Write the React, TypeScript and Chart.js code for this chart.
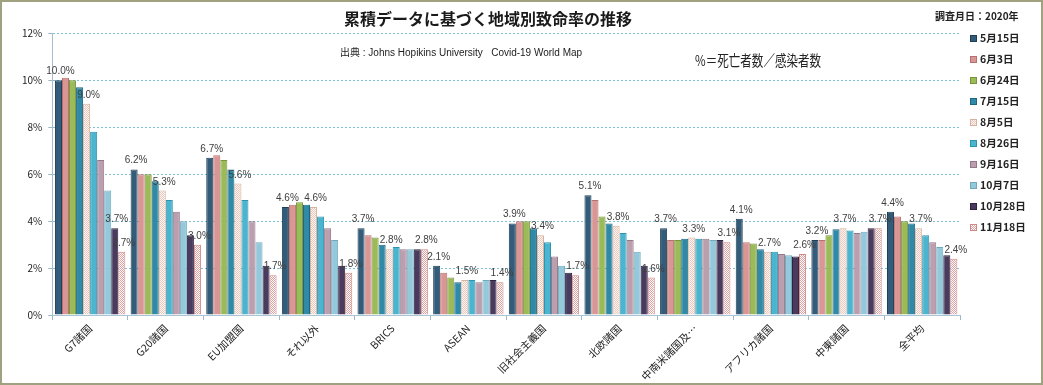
import React, { useEffect, useRef } from 'react';
import { Chart, registerables } from 'chart.js';

Chart.register(...registerables);

const categories = ['G7諸国', 'G20諸国', 'EU加盟国', 'それ以外', 'BRICS', 'ASEAN', '旧社会主義国', '北欧諸国', '中南米諸国及…', 'アフリカ諸国', '中東諸国', '全平均'];
const seriesNames = ['5月15日', '6月3日', '6月24日', '7月15日', '8月5日', '8月26日', '9月16日', '10月7日', '10月28日', '11月18日'];

const may15 = [10.0, 6.2, 6.7, 4.6, 3.7, 2.1, 3.9, 5.1, 3.7, 4.1, 3.2, 4.4];
const jun3 = [10.1, 6.0, 6.8, 4.7, 3.4, 1.8, 4.0, 4.9, 3.2, 3.1, 3.2, 4.2];
const jun24 = [10.0, 6.0, 6.6, 4.8, 3.3, 1.6, 4.0, 4.2, 3.2, 3.05, 3.4, 4.0];
const jul15 = [9.7, 5.7, 6.2, 4.7, 3.0, 1.4, 3.7, 3.9, 3.25, 2.8, 3.65, 3.9];
const aug5 = [9.0, 5.3, 5.6, 4.6, 2.8, 1.5, 3.4, 3.8, 3.3, 2.7, 3.7, 3.7];
const aug26 = [7.8, 4.9, 4.9, 4.2, 2.9, 1.5, 3.1, 3.5, 3.25, 2.7, 3.6, 3.4];
const sep16 = [6.6, 4.4, 4.0, 3.7, 2.8, 1.4, 2.5, 3.2, 3.25, 2.6, 3.5, 3.1];
const oct7 = [5.3, 4.0, 3.1, 3.2, 2.8, 1.5, 2.1, 2.7, 3.2, 2.55, 3.55, 2.9];
const oct28 = [3.7, 3.4, 2.1, 2.1, 2.8, 1.5, 1.8, 2.1, 3.2, 2.5, 3.7, 2.55];
const nov18 = [2.7, 3.0, 1.7, 1.8, 2.8, 1.4, 1.7, 1.6, 3.1, 2.6, 3.7, 2.4];

const seriesValues = [may15, jun3, jun24, jul15, aug5, aug26, sep16, oct7, oct28, nov18];

// which series carry a value label, per category
const labeledSeries = [[0, 4, 8, 9], [0, 4, 9], [0, 4, 9], [0, 4, 9], [0, 4, 9], [0, 4, 9], [0, 4, 9], [0, 4, 9], [0, 4, 9], [0, 4, 9], [0, 4, 9], [0, 4, 9]];

const yTicks = [0, 2, 4, 6, 8, 10, 12];

const fills = ['#325C7A', '#D99694', '#9BBB59', '#2E8AA6', 'PATTERN_A', '#4BB4CF', '#BB9FAE', '#93C9DA', '#4A3A5E', 'PATTERN_B'];
const edges = ['#1F3F55', '#B8706E', '#77953A', '#1E6680', '#D6B29E', '#2E93AE', '#977687', '#6FA9BC', '#2F2340', '#D08886'];
const cssFills = ['#325C7A', '#D99694', '#9BBB59', '#2E8AA6', 'repeating-conic-gradient(#EBC6BC 0 25%, #FFF8F2 0 50%) 0 0/2px 2px', '#4BB4CF', '#BB9FAE', '#93C9DA', '#4A3A5E', 'repeating-conic-gradient(#E0A09F 0 25%, #FFFFFF 0 50%) 0 0/2px 2px'];

const FONT = '"Noto Sans CJK JP", "Noto Sans", sans-serif';

function makePattern(a: string, b: string): CanvasPattern | string {
  const c = document.createElement('canvas');
  c.width = 2;
  c.height = 2;
  const g = c.getContext('2d');
  if (!g) return a;
  g.fillStyle = b;
  g.fillRect(0, 0, 2, 2);
  g.fillStyle = a;
  g.fillRect(0, 0, 1, 1);
  g.fillRect(1, 1, 1, 1);
  const p = g.createPattern(c, 'repeat');
  return p || a;
}

const valueLabelPlugin = {
  id: 'valueLabels',
  afterDatasetsDraw(chart: any) {
    const ctx = chart.ctx;
    ctx.save();
    ctx.font = '10px "Liberation Sans", Arial, sans-serif';
    ctx.fillStyle = '#404040';
    ctx.textAlign = 'center';
    ctx.textBaseline = 'alphabetic';
    labeledSeries.forEach((list, ci) => {
      list.forEach((si) => {
        const el = chart.getDatasetMeta(si).data[ci];
        const v = chart.data.datasets[si].data[ci] as number;
        if (!el) return;
        ctx.fillText(v.toFixed(1) + '%', el.x + 2, el.y - 6);
      });
    });
    ctx.restore();
  },
};

export default function App() {
  const ref = useRef<HTMLCanvasElement>(null);

  useEffect(() => {
    if (!ref.current) return;
    const patA = makePattern('#EBC6BC', '#FFF8F2');
    const patB = makePattern('#E0A09F', '#FFFFFF');
    const datasets = seriesNames.map((name, i) => ({
      label: name,
      data: seriesValues[i],
      backgroundColor: fills[i] === 'PATTERN_A' ? patA : fills[i] === 'PATTERN_B' ? patB : fills[i],
      borderColor: edges[i],
      borderWidth: 1,
      categoryPercentage: 0.93,
      barPercentage: 1.0,
    }));
    const chart = new Chart(ref.current, {
      type: 'bar',
      data: { labels: categories, datasets },
      plugins: [valueLabelPlugin],
      options: {
        animation: false,
        responsive: false,
        devicePixelRatio: 1,
        layout: { padding: { left: 14, right: 81, top: 0, bottom: -2 } },
        plugins: {
          legend: { display: false },
          tooltip: { enabled: false },
          title: {
            display: true,
            text: '累積データに基づく地域別致命率の推移',
            color: '#1a1a1a',
            font: { family: FONT, size: 16, weight: 'bold', lineHeight: 1.2 },
            padding: { top: 7, bottom: 5 },
          },
        },
        scales: {
          x: {
            grid: { display: true, drawOnChartArea: false, drawTicks: true, tickLength: 5, color: '#9DB8CC' },
            border: { display: true, color: '#A9C4D6', width: 1 },
            ticks: {
              color: '#222222',
              font: { family: FONT, size: 10.5 },
              minRotation: 45,
              maxRotation: 45,
              autoSkip: false,
              padding: 2,
            },
          },
          y: {
            min: 0,
            max: 12,
            afterBuildTicks: (axis: any) => {
              axis.ticks = yTicks.map((v) => ({ value: v }));
            },
            grid: { color: '#7DC3D6', lineWidth: 1, drawTicks: true, tickLength: 4, tickColor: '#A0B4C4' },
            border: { display: true, color: '#A8BDCC', dash: [2, 2] },
            ticks: {
              color: '#222222',
              font: { family: FONT, size: 10 },
              padding: 6,
              callback: (v: any) => v + '%',
            },
          },
        },
      },
    });
    return () => chart.destroy();
  }, []);

  return (
    <div
      style={{
        position: 'absolute',
        left: 0,
        top: 0,
        width: 1043,
        height: 385,
        boxSizing: 'border-box',
        border: '2px solid #A0A17E',
        background: '#FFFFFF',
        fontFamily: FONT,
        overflow: 'hidden',
      }}
    >
      <canvas ref={ref} width={1039} height={381} style={{ position: 'absolute', left: 0, top: 0 }} />
      <div style={{ position: 'absolute', left: 933, top: 8, fontSize: 10, lineHeight: '12px', fontWeight: 'bold', color: '#222', whiteSpace: 'nowrap' }}>
        調査月日：2020年
      </div>
      <div style={{ position: 'absolute', left: 338, top: 45, fontSize: 10, lineHeight: '12px', color: '#222', whiteSpace: 'pre', fontFamily: '"Liberation Sans", "Noto Sans CJK JP", sans-serif' }}>
        {'出典 : Johns Hopikins University   Covid-19 World Map'}
      </div>
      <div style={{ position: 'absolute', left: 693, top: 49, fontSize: 15, lineHeight: '18px', color: '#222', whiteSpace: 'nowrap', transform: 'scaleX(0.77)', transformOrigin: 'left top' }}>
        %＝死亡者数／感染者数
      </div>
      {seriesNames.map((name, i) => (
        <div key={name} style={{ position: 'absolute', left: 968, top: 38 + 21 * i - 2 - 7, height: 14, display: 'flex', alignItems: 'center', whiteSpace: 'nowrap' }}>
          <span style={{ display: 'inline-block', width: 7, height: 7, boxSizing: 'border-box', border: '1px solid ' + edges[i], background: cssFills[i], marginRight: 3 }} />
          <span style={{ fontSize: 10.5, lineHeight: '14px', fontWeight: 'bold', color: '#222' }}>{name}</span>
        </div>
      ))}
    </div>
  );
}
